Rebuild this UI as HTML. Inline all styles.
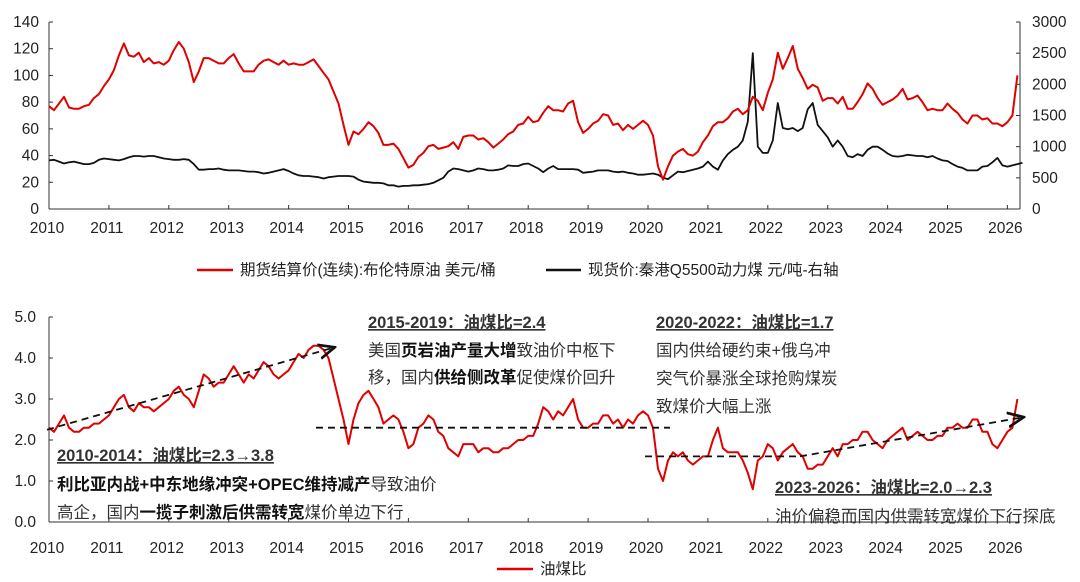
<!DOCTYPE html>
<html><head><meta charset="utf-8">
<style>
html,body{margin:0;padding:0;background:#fff;}
svg{display:block;font-family:"Liberation Sans","Noto Sans CJK SC",sans-serif;}
</style></head>
<body>
<svg id="c" width="1080" height="582" viewBox="0 0 1080 582"></svg>
<script>
const years=[2010,2011,2012,2013,2014,2015,2016,2017,2018,2019,2020,2021,2022,2023,2024,2025,2026];
const leftTicks=[0,20,40,60,80,100,120,140];
const rightTicks=[0,500,1000,1500,2000,2500,3000];
const ratioTicks=[0.0,1.0,2.0,3.0,4.0,5.0];
const brent=[77,74,79,84,76,75,75,77,78,83,86,92,
97,104,115,124,115,114,117,110,113,109,110,108,
111,119,125,120,110,95,103,113,113,111,109,109,
113,116,109,103,103,103,108,111,112,110,108,111,
108,109,108,108,110,112,107,102,97,88,79,63,
48,58,56,60,65,62,57,48,48,49,45,38,
31,33,39,42,47,48,45,46,47,50,45,54,
55,55,52,53,50,46,49,52,56,58,63,64,
69,65,66,72,77,74,74,73,79,81,65,57,
60,64,66,71,70,63,64,59,63,60,63,66,
63,55,32,22,32,40,43,45,41,40,43,50,
55,62,65,65,68,73,75,71,74,84,81,74,
87,97,117,105,113,122,105,98,90,93,91,81,
83,83,79,84,75,75,80,86,94,90,83,78,
80,82,85,90,82,83,85,80,74,75,74,74,
79,75,72,67,64,70,70,67,68,64,64,62,
65,70,100];
const coal=[780,790,760,730,750,760,740,720,720,740,790,810,
800,790,780,800,830,850,850,840,850,850,830,810,
800,790,790,800,790,720,630,630,640,640,650,630,
620,620,620,610,600,600,590,570,580,600,620,640,
610,570,540,530,530,520,510,490,510,520,530,530,
530,520,470,440,430,420,420,410,380,380,360,370,
370,380,380,390,400,420,460,500,600,650,640,620,
600,620,650,640,620,620,630,650,700,690,690,720,
730,690,650,590,650,690,640,640,640,640,630,580,
590,600,620,620,620,600,590,600,580,570,550,550,
560,570,550,500,480,540,600,590,610,630,650,680,
760,680,630,780,880,950,1000,1100,1400,2500,1000,900,
900,1100,1700,1300,1280,1300,1250,1300,1600,1700,1350,1250,
1150,1000,1100,1000,850,830,880,850,950,1000,1000,950,
890,850,840,850,870,860,850,850,830,850,810,780,
770,720,680,660,620,620,620,680,690,750,820,700,
680,700,720,740];
const ratio=[2.3,2.2,2.4,2.6,2.3,2.2,2.2,2.3,2.3,2.4,2.4,2.5,
2.6,2.8,3.0,3.1,2.8,2.7,2.9,2.8,2.8,2.7,2.8,2.9,
3.0,3.2,3.3,3.1,3.0,2.8,3.2,3.6,3.5,3.3,3.4,3.4,
3.6,3.8,3.6,3.4,3.6,3.5,3.7,3.9,3.8,3.6,3.5,3.6,
3.7,3.9,4.1,4.0,4.2,4.3,4.3,4.2,4.0,3.5,3.0,2.5,
1.9,2.5,2.9,3.1,3.2,3.0,2.8,2.4,2.5,2.6,2.5,2.2,
1.8,1.9,2.3,2.4,2.6,2.5,2.2,2.1,1.8,1.7,1.6,1.9,
1.9,1.9,1.7,1.8,1.8,1.7,1.7,1.8,1.8,1.9,2.0,2.0,
2.1,2.1,2.4,2.8,2.7,2.5,2.7,2.6,2.8,3.0,2.5,2.3,
2.3,2.4,2.4,2.6,2.6,2.4,2.5,2.3,2.5,2.4,2.6,2.7,
2.6,2.3,1.3,1.0,1.5,1.7,1.6,1.7,1.5,1.4,1.5,1.6,
1.6,2.0,2.3,1.8,1.7,1.7,1.7,1.5,1.2,0.8,1.5,1.6,
1.9,1.8,1.5,1.7,1.8,1.9,1.7,1.6,1.3,1.3,1.4,1.4,
1.6,1.8,1.6,1.9,1.9,2.0,2.0,2.2,2.2,2.0,1.9,1.8,
2.0,2.1,2.2,2.3,2.0,2.1,2.2,2.1,2.0,2.0,2.1,2.1,
2.3,2.3,2.4,2.3,2.3,2.5,2.5,2.2,2.2,1.9,1.8,2.0,
2.2,2.3,3.0];

const NS="http://www.w3.org/2000/svg";
const svg=document.getElementById('c');
function mk(tag,attrs,parent){const e=document.createElementNS(NS,tag);for(const k in attrs)e.setAttribute(k,attrs[k]);(parent||svg).appendChild(e);return e;}
const X0=49,YW=59.9,XR=1020;
const xYear=y=>X0+(y-2010)*YW;
const xMonth=i=>X0+(i/12)*YW;
const yL=v=>209-v*(187/140);
const yR=v=>209-v*(187/3000);
const yB=v=>522-v*41;
const FS=15.5;

function ln(x1,y1,x2,y2,name,c){const l=mk('line',{x1,y1,x2,y2,stroke:c||'#333','stroke-width':1});

return l;}

// top axes
ln(X0,209,XR,209,'top-x-axis');
ln(X0,22,X0,209,'top-left-y-axis');
ln(XR,22,XR,209,'top-right-y-axis');
leftTicks.forEach(t=>{ln(X0,yL(t),X0+4,yL(t),'left-y-tickmark');
const e=mk('text',{x:39,y:yL(t)+5,'text-anchor':'end','font-size':FS,fill:'#222'});e.textContent=t;

});
rightTicks.forEach(t=>{ln(XR-4,yR(t),XR,yR(t),'right-y-tickmark');
const e=mk('text',{x:1032,y:yR(t)+5,'font-size':FS,fill:'#222'});e.textContent=t;

});
years.forEach(y=>{ln(xYear(y),205,xYear(y),209,'top-x-tickmark');
const e=mk('text',{x:xYear(y)-2,y:233,'text-anchor':'middle','font-size':FS,fill:'#222'});e.textContent=y;

});

function path(arr,fx,fy,color,w,name){let d='';arr.forEach((v,i)=>{d+=(i?'L':'M')+fx(i).toFixed(1)+','+fy(v).toFixed(1);});
const p=mk('path',{d:d,fill:'none',stroke:color,'stroke-width':w,'stroke-linejoin':'round'});

return p;}
path(coal,xMonth,yR,'#111',1.8,'coal-price-line');
path(brent,xMonth,yL,'#e00000',2,'brent-price-line');

// top legend
const lg1=mk('line',{x1:197,y1:270,x2:233,y2:270,stroke:'#e00000','stroke-width':2.5});


let t=mk('text',{x:240,y:275,'font-size':FS,fill:'#222'});t.textContent='期货结算价(连续):布伦特原油 美元/桶';


const lg2=mk('line',{x1:546,y1:270,x2:581,y2:270,stroke:'#111','stroke-width':2.5});


t=mk('text',{x:588,y:275,'font-size':FS,fill:'#222'});t.textContent='现货价:秦港Q5500动力煤 元/吨-右轴';



// bottom axes
ln(X0,522,XR,522,'bottom-x-axis');
ln(X0,317,X0,522,'bottom-y-axis');
ratioTicks.forEach(v=>{ln(X0,yB(v),X0+4,yB(v),'ratio-y-tickmark');
const e=mk('text',{x:36,y:yB(v)+5,'text-anchor':'end','font-size':FS,fill:'#222'});e.textContent=v.toFixed(1);

});
years.forEach(y=>{ln(xYear(y),518,xYear(y),522,'bottom-x-tickmark');
const e=mk('text',{x:xYear(y)-2,y:553,'text-anchor':'middle','font-size':FS,fill:'#222'});e.textContent=y;

});

mk('defs',{}).innerHTML='<marker id="ar" markerWidth="10" markerHeight="10" refX="8" refY="5" orient="auto"><path d="M0,1 L9,5 L0,9" fill="none" stroke="#111" stroke-width="1.5"/></marker>';
function dash(x1,y1,x2,y2,arrow,name){const l=mk('line',{x1,y1,x2,y2,stroke:'#111','stroke-width':1.8,'stroke-dasharray':'7,5'});if(arrow)l.setAttribute('marker-end','url(#ar)');

}
path(ratio,xMonth,yB,'#e00000',2,'oil-coal-ratio-line');
dash(47,yB(2.25),333,yB(4.25),true,'trend-arrow-2010-2014');
dash(316,yB(2.3),670,yB(2.3),false,'level-line-2015-2019');
dash(645,yB(1.6),800,yB(1.6),false,'level-line-2020-2022');
dash(800,yB(1.6),1022,yB(2.55),true,'trend-arrow-2023-2026');

const lg3=mk('line',{x1:497,y1:569,x2:533,y2:569,stroke:'#e00000','stroke-width':2.5});


t=mk('text',{x:540,y:574,'font-size':FS,fill:'#222'});t.textContent='油煤比';



function note(x,y,html,name,bold){const e=mk('text',{x,y,'font-size':16.5,fill:'#333'});e.innerHTML=html;if(bold){e.setAttribute('font-weight','bold');e.setAttribute('text-decoration','underline');}

}
const B=s=>'<tspan font-weight="bold" fill="#111">'+s+'</tspan>';
note(368,328,'2015-2019：油煤比=2.4','note-2015-title',true);
note(368,356,'美国'+B('页岩油产量大增')+'致油价中枢下','note-2015-line1');
note(368,383,'移，国内'+B('供给侧改革')+'促使煤价回升','note-2015-line2');
note(656,328,'2020-2022：油煤比=1.7','note-2020-title',true);
note(656,356,'国内供给硬约束+俄乌冲','note-2020-line1');
note(656,384,'突气价暴涨全球抢购煤炭','note-2020-line2');
note(656,412,'致煤价大幅上涨','note-2020-line3');
note(57,461,'2010-2014：油煤比=2.3→3.8','note-2010-title',true);
note(57,490,B('利比亚内战+中东地缘冲突+OPEC维持减产')+'导致油价','note-2010-line1');
note(57,518,'高企，国内'+B('一揽子刺激后供需转宽')+'煤价单边下行','note-2010-line2');
note(775,493,'2023-2026：油煤比=2.0→2.3','note-2023-title',true);
note(775,522,'油价偏稳而国内供需转宽煤价下行探底','note-2023-line1');
</script>
</body></html>
